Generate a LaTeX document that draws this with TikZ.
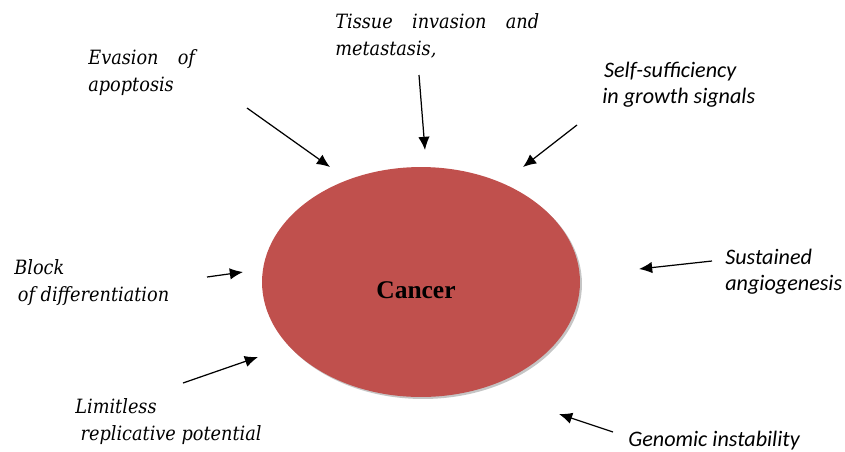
\documentclass[tikz,border=0pt]{standalone}
\usepackage{fontspec}
\setmainfont{Liberation Serif}
\newfontfamily\slabfont{DejaVu Serif Condensed}
\newfontfamily\calfont{Carlito}
\usepackage{tikz}
\usetikzlibrary{arrows.meta, shapes.geometric, shadows}

\definecolor{cancerred}{HTML}{C0504D}
\newcommand{\spreadline}[2]{\hbox to #1{#2}}

\tikzset{
    hallmark/.style={anchor=base west, inner sep=0pt, align=left},
    slabtext/.style={hallmark, font=\slabfont\itshape\fontsize{11.2}{15.3}\selectfont},
    caltext/.style={hallmark, font=\calfont\itshape\fontsize{12.6}{14.8}\selectfont},
    pointer/.style={-{Latex[length=7.5pt, width=6.5pt]}, line width=0.7pt}
}

\begin{document}
\begin{tikzpicture}[x=0.02cm, y=-0.02cm]
        \useasboundingbox (0, 0) rectangle (845, 451);

        \node (cancer) [ellipse, fill=cancerred, minimum width=6.36cm, minimum height=4.6cm,
            drop shadow={shadow xshift=0.04cm, shadow yshift=-0.04cm, fill=black!45}] at (421, 282) {}; % tumour
        \node (cancer-text) [font=\bfseries\fontsize{14.5}{16}\selectfont] at (416, 290) {Cancer};

        % labels round the tumour, placed at the baseline of their last line
        \node (evasion) [slabtext] at (88, 91) {\spreadline{60.7pt}{Evasion\hfill of}\\apoptosis};
        \node (tissue) [slabtext] at (335, 55) {\spreadline{116pt}{Tissue\hfill invasion\hfill and}\\metastasis,};
        \node (growth) [caltext] at (602, 103) {\hspace{1pt}Self-sufficiency\\in growth signals};
        \node (block) [slabtext] at (14, 301) {Block\\\hspace{2pt}of differentiation};
        \node (limitless) [slabtext] at (75, 440) {Limitless\\\hspace{3pt}replicative potential};
        \node (angio) [caltext] at (725, 290) {Sustained\\angiogenesis};
        \node (genomic) [caltext] at (628, 446) {Genomic instability};

        % free ends of the arrows
        \coordinate (evasion-s) at (247, 108);
        \coordinate (evasion-e) at (330, 167);
        \coordinate (tissue-s) at (419, 75);
        \coordinate (tissue-e) at (425, 150);
        \coordinate (growth-s) at (577, 125);
        \coordinate (growth-e) at (523, 167);
        \coordinate (block-s) at (207, 277);
        \coordinate (block-e) at (243, 272);
        \coordinate (limitless-s) at (183, 383);
        \coordinate (limitless-e) at (258, 357);
        \coordinate (angio-s) at (712, 261);
        \coordinate (angio-e) at (639, 269);
        \coordinate (genomic-s) at (613, 432);
        \coordinate (genomic-e) at (559, 414);

        \draw [pointer] (evasion-s) -- (evasion-e);
        \draw [pointer] (tissue-s) -- (tissue-e);
        \draw [pointer] (growth-s) -- (growth-e);
        \draw [pointer] (block-s) -- (block-e);
        \draw [pointer] (limitless-s) -- (limitless-e);
        \draw [pointer] (angio-s) -- (angio-e);
        \draw [pointer] (genomic-s) -- (genomic-e);
    \end{tikzpicture}
\end{document}
